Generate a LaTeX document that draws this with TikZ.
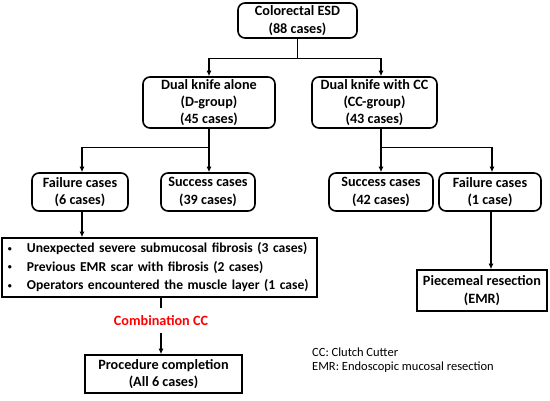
\documentclass[tikz,border=0pt]{standalone}
\usepackage{fontspec}
\setmainfont{Carlito}
\usetikzlibrary{arrows.meta}
\newcommand{\smallbul}{\makebox[19pt][l]{\raisebox{1.5pt}{\fontsize{8}{8}\selectfont\textbullet}}}
\begin{document}
\begin{tikzpicture}[x=1pt,y=-1pt,
 box/.style={draw, line width=1.6pt, inner sep=0pt, align=center, font=\bfseries\fontsize{14.2}{17.2}\selectfont},
 rbox/.style={box, rounded corners=7pt},
 conn/.style={line width=1.3pt},
 arr/.style={conn, -{Latex[length=5.5pt,width=5pt]}},
 legend/.style={anchor=west, align=left, inner sep=0pt, font=\fontsize{12.5}{14.5}\selectfont}
]
\useasboundingbox (0,0) rectangle (550,400);
\node[rbox, minimum width=119pt, minimum height=35pt] (top) at (297.5,20.5) {Colorectal ESD\\(88 cases)};
\node[rbox, minimum width=132pt, minimum height=51pt] (dg) at (209,102.5) {Dual knife alone\\(D-group)\\(45 cases)};
\node[rbox, minimum width=125pt, minimum height=51pt] (cc) at (374.5,102.5) {Dual knife with CC\\(CC-group)\\(43 cases)};
\node[rbox, minimum width=96pt, minimum height=38pt] (f6) at (80,192) {Failure cases\\(6 cases)};
\node[rbox, minimum width=94pt, minimum height=38pt] (s39) at (208,192) {Success cases\\(39 cases)};
\node[rbox, minimum width=104pt, minimum height=38pt] (s42) at (381,192) {Success cases\\(42 cases)};
\node[rbox, minimum width=102pt, minimum height=38pt] (f1) at (490,192) {Failure cases\\(1 case)};
\node[box, minimum width=315pt, minimum height=59pt, inner xsep=6pt, text width=303pt, align=left, font=\bfseries\fontsize{13.6}{18.5}\selectfont] (bul) at (159.5,267.5)
 {\smallbul\mbox{Unexpected severe submucosal fibrosis (3 cases)}\\
  \smallbul\mbox{Previous EMR scar with fibrosis (2 cases)}\\
  \smallbul\mbox{Operators encountered the muscle layer (1 case)}};
\node[box, minimum width=130pt, minimum height=41pt] (pm) at (482,290.5) {Piecemeal resection\\(EMR)};
\node[inner sep=0pt, minimum height=25pt, text=red, font=\bfseries\fontsize{14.2}{17}\selectfont] (comb) at (161,320.5) {Combination CC};
\node[box, minimum width=157pt, minimum height=38pt] (proc) at (163.5,374) {Procedure completion\\(All 6 cases)};
\node[legend] (leg) at (312,360) {CC: Clutch Cutter\\EMR: Endoscopic mucosal resection};

\draw[arr] (top.south) -- ++(0,19.5) -| (dg.north);
\draw[arr] (top.south) -- ++(0,19.5) -| ([xshift=6.5pt]cc.north);
\draw[arr] (dg.south) -- ++(0,19) -| ([xshift=2pt]f6.north);
\draw[arr] (dg.south) -- (dg.south |- s39.north);
\draw[arr] ([xshift=6.5pt]cc.south) -- ++(0,19) -| ([xshift=2pt]f1.north);
\draw[arr] ([xshift=6.5pt]cc.south) -- ([xshift=6.5pt]cc.south |- s42.north);
\draw[arr] ([xshift=2pt]f6.south) -- ([xshift=2pt]f6.south |- bul.north);
\draw[arr] ([xshift=1pt]f1.south) -- ([xshift=1pt]f1.south |- pm.north);
\draw[conn] (bul.south -| comb.north) -- (comb.north);
\draw[arr] (comb.south) -- (comb.south |- proc.north);
\end{tikzpicture}
\end{document}
